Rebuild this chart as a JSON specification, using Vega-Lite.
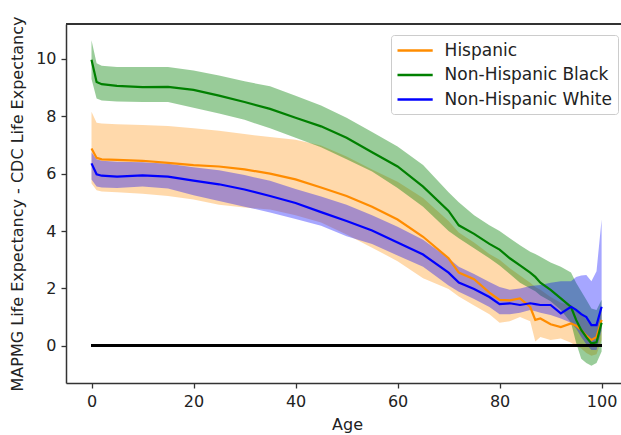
{
  "$schema": "https://vega.github.io/schema/vega-lite/v6.json",
  "width": 555,
  "height": 359,
  "autosize": {"type": "none"},
  "padding": {"left": 66, "top": 24, "right": 0, "bottom": 52},
  "background": "white",
  "config": {
    "view": {"stroke": null},
    "font": "DejaVu Sans",
    "axis": {
      "grid": false,
      "domainColor": "#333333",
      "domainWidth": 1.5,
      "tickColor": "#333333",
      "tickWidth": 1.3,
      "tickSize": 5,
      "labelColor": "#222222",
      "titleColor": "#222222",
      "labelFont": "DejaVu Sans",
      "titleFont": "DejaVu Sans",
      "labelFontSize": 16,
      "titleFontSize": 16,
      "titleFontWeight": "normal"
    }
  },
  "data": {
    "values": [
      {"series": "Hispanic", "age": 0, "diff": 6.88, "lower": 5.66, "upper": 8.16},
      {"series": "Hispanic", "age": 1, "diff": 6.55, "lower": 5.42, "upper": 7.78},
      {"series": "Hispanic", "age": 2, "diff": 6.5, "lower": 5.38, "upper": 7.75},
      {"series": "Hispanic", "age": 5, "diff": 6.48, "lower": 5.35, "upper": 7.72},
      {"series": "Hispanic", "age": 10, "diff": 6.45, "lower": 5.3, "upper": 7.7},
      {"series": "Hispanic", "age": 15, "diff": 6.38, "lower": 5.22, "upper": 7.66},
      {"series": "Hispanic", "age": 20, "diff": 6.3, "lower": 5.1, "upper": 7.58},
      {"series": "Hispanic", "age": 25, "diff": 6.25, "lower": 4.92, "upper": 7.5},
      {"series": "Hispanic", "age": 30, "diff": 6.15, "lower": 4.82, "upper": 7.38},
      {"series": "Hispanic", "age": 35, "diff": 6.0, "lower": 4.75, "upper": 7.28},
      {"series": "Hispanic", "age": 40, "diff": 5.8, "lower": 4.55, "upper": 7.18},
      {"series": "Hispanic", "age": 45, "diff": 5.52, "lower": 4.3, "upper": 6.98},
      {"series": "Hispanic", "age": 50, "diff": 5.22, "lower": 3.88, "upper": 6.6},
      {"series": "Hispanic", "age": 55, "diff": 4.85, "lower": 3.42, "upper": 6.15},
      {"series": "Hispanic", "age": 60, "diff": 4.4, "lower": 2.95, "upper": 5.72},
      {"series": "Hispanic", "age": 65, "diff": 3.8, "lower": 2.35, "upper": 5.15},
      {"series": "Hispanic", "age": 70, "diff": 3.05, "lower": 1.98, "upper": 4.35},
      {"series": "Hispanic", "age": 72, "diff": 2.55, "lower": 1.72, "upper": 3.95},
      {"series": "Hispanic", "age": 75, "diff": 2.32, "lower": 1.4, "upper": 3.6},
      {"series": "Hispanic", "age": 78, "diff": 1.85, "lower": 1.1, "upper": 3.2},
      {"series": "Hispanic", "age": 80, "diff": 1.6, "lower": 0.8, "upper": 3.0},
      {"series": "Hispanic", "age": 82, "diff": 1.58, "lower": 0.85, "upper": 2.7},
      {"series": "Hispanic", "age": 84, "diff": 1.65, "lower": 1.0, "upper": 2.45},
      {"series": "Hispanic", "age": 86, "diff": 1.35, "lower": 0.85, "upper": 2.2},
      {"series": "Hispanic", "age": 87, "diff": 0.9, "lower": 0.15, "upper": 2.05},
      {"series": "Hispanic", "age": 88, "diff": 0.95, "lower": 0.3, "upper": 1.95},
      {"series": "Hispanic", "age": 90, "diff": 0.75, "lower": 0.2, "upper": 1.7},
      {"series": "Hispanic", "age": 92, "diff": 0.65, "lower": 0.25, "upper": 1.5},
      {"series": "Hispanic", "age": 94, "diff": 0.78, "lower": 0.1, "upper": 1.4},
      {"series": "Hispanic", "age": 95, "diff": 0.7, "lower": 0.0, "upper": 1.3},
      {"series": "Hispanic", "age": 96, "diff": 0.55, "lower": -0.1, "upper": 1.1},
      {"series": "Hispanic", "age": 97, "diff": 0.35, "lower": -0.25, "upper": 0.9},
      {"series": "Hispanic", "age": 98, "diff": 0.2, "lower": -0.35, "upper": 0.7},
      {"series": "Hispanic", "age": 99, "diff": 0.3, "lower": -0.3, "upper": 0.8},
      {"series": "Hispanic", "age": 100, "diff": 0.9, "lower": 0.2, "upper": 1.2},

      {"series": "Non-Hispanic Black", "age": 0, "diff": 9.97, "lower": 9.3, "upper": 10.65},
      {"series": "Non-Hispanic Black", "age": 1, "diff": 9.2, "lower": 8.62, "upper": 9.85},
      {"series": "Non-Hispanic Black", "age": 2, "diff": 9.12, "lower": 8.55, "upper": 9.76},
      {"series": "Non-Hispanic Black", "age": 5, "diff": 9.06, "lower": 8.52, "upper": 9.72},
      {"series": "Non-Hispanic Black", "age": 10, "diff": 9.02, "lower": 8.5, "upper": 9.72},
      {"series": "Non-Hispanic Black", "age": 15, "diff": 9.03, "lower": 8.5, "upper": 9.72},
      {"series": "Non-Hispanic Black", "age": 20, "diff": 8.92, "lower": 8.3, "upper": 9.6},
      {"series": "Non-Hispanic Black", "age": 25, "diff": 8.72, "lower": 8.1, "upper": 9.42},
      {"series": "Non-Hispanic Black", "age": 30, "diff": 8.5, "lower": 7.88, "upper": 9.22},
      {"series": "Non-Hispanic Black", "age": 35, "diff": 8.26, "lower": 7.58, "upper": 9.05},
      {"series": "Non-Hispanic Black", "age": 40, "diff": 7.95, "lower": 7.25, "upper": 8.72},
      {"series": "Non-Hispanic Black", "age": 45, "diff": 7.65, "lower": 6.92, "upper": 8.38},
      {"series": "Non-Hispanic Black", "age": 50, "diff": 7.25, "lower": 6.5, "upper": 7.95},
      {"series": "Non-Hispanic Black", "age": 55, "diff": 6.75, "lower": 6.08, "upper": 7.45},
      {"series": "Non-Hispanic Black", "age": 60, "diff": 6.25, "lower": 5.5, "upper": 6.95},
      {"series": "Non-Hispanic Black", "age": 65, "diff": 5.55, "lower": 4.85, "upper": 6.3},
      {"series": "Non-Hispanic Black", "age": 70, "diff": 4.7, "lower": 4.0, "upper": 5.35},
      {"series": "Non-Hispanic Black", "age": 72, "diff": 4.2, "lower": 3.75, "upper": 5.0},
      {"series": "Non-Hispanic Black", "age": 75, "diff": 3.9, "lower": 3.4, "upper": 4.55},
      {"series": "Non-Hispanic Black", "age": 78, "diff": 3.55, "lower": 3.05, "upper": 4.2},
      {"series": "Non-Hispanic Black", "age": 80, "diff": 3.35, "lower": 2.8, "upper": 4.0},
      {"series": "Non-Hispanic Black", "age": 82, "diff": 3.05, "lower": 2.5, "upper": 3.75},
      {"series": "Non-Hispanic Black", "age": 84, "diff": 2.8, "lower": 2.2, "upper": 3.5},
      {"series": "Non-Hispanic Black", "age": 86, "diff": 2.55, "lower": 2.0, "upper": 3.28},
      {"series": "Non-Hispanic Black", "age": 87, "diff": 2.4, "lower": 1.9, "upper": 3.2},
      {"series": "Non-Hispanic Black", "age": 88, "diff": 2.2, "lower": 1.75, "upper": 3.1},
      {"series": "Non-Hispanic Black", "age": 90, "diff": 1.95, "lower": 1.55, "upper": 2.9},
      {"series": "Non-Hispanic Black", "age": 92, "diff": 1.65, "lower": 1.25, "upper": 2.75},
      {"series": "Non-Hispanic Black", "age": 94, "diff": 1.35, "lower": 0.8, "upper": 2.55},
      {"series": "Non-Hispanic Black", "age": 95, "diff": 0.9, "lower": 0.1, "upper": 2.2},
      {"series": "Non-Hispanic Black", "age": 96, "diff": 0.55, "lower": -0.45, "upper": 1.9},
      {"series": "Non-Hispanic Black", "age": 97, "diff": 0.3, "lower": -0.6, "upper": 1.6},
      {"series": "Non-Hispanic Black", "age": 98, "diff": 0.08, "lower": -0.7, "upper": 1.3},
      {"series": "Non-Hispanic Black", "age": 99, "diff": 0.12, "lower": -0.6, "upper": 1.25},
      {"series": "Non-Hispanic Black", "age": 100, "diff": 0.8, "lower": -0.2, "upper": 1.6},

      {"series": "Non-Hispanic White", "age": 0, "diff": 6.36, "lower": 5.8, "upper": 6.75},
      {"series": "Non-Hispanic White", "age": 1, "diff": 5.98, "lower": 5.55, "upper": 6.5},
      {"series": "Non-Hispanic White", "age": 2, "diff": 5.93, "lower": 5.52, "upper": 6.45},
      {"series": "Non-Hispanic White", "age": 5, "diff": 5.9, "lower": 5.5, "upper": 6.42},
      {"series": "Non-Hispanic White", "age": 10, "diff": 5.94, "lower": 5.55, "upper": 6.4},
      {"series": "Non-Hispanic White", "age": 15, "diff": 5.9, "lower": 5.48, "upper": 6.35},
      {"series": "Non-Hispanic White", "age": 20, "diff": 5.76, "lower": 5.25, "upper": 6.22},
      {"series": "Non-Hispanic White", "age": 25, "diff": 5.63, "lower": 5.05, "upper": 6.12},
      {"series": "Non-Hispanic White", "age": 30, "diff": 5.45, "lower": 4.85, "upper": 5.95},
      {"series": "Non-Hispanic White", "age": 35, "diff": 5.22, "lower": 4.65, "upper": 5.75},
      {"series": "Non-Hispanic White", "age": 40, "diff": 4.98, "lower": 4.42, "upper": 5.47},
      {"series": "Non-Hispanic White", "age": 45, "diff": 4.66, "lower": 4.18, "upper": 5.2},
      {"series": "Non-Hispanic White", "age": 50, "diff": 4.35, "lower": 3.82, "upper": 4.92},
      {"series": "Non-Hispanic White", "age": 55, "diff": 4.02, "lower": 3.55, "upper": 4.55},
      {"series": "Non-Hispanic White", "age": 60, "diff": 3.6, "lower": 3.15, "upper": 4.15},
      {"series": "Non-Hispanic White", "age": 65, "diff": 3.18, "lower": 2.75, "upper": 3.7},
      {"series": "Non-Hispanic White", "age": 70, "diff": 2.55, "lower": 2.1, "upper": 3.05},
      {"series": "Non-Hispanic White", "age": 72, "diff": 2.2, "lower": 1.88, "upper": 2.75},
      {"series": "Non-Hispanic White", "age": 75, "diff": 1.98, "lower": 1.63, "upper": 2.5},
      {"series": "Non-Hispanic White", "age": 78, "diff": 1.7, "lower": 1.35, "upper": 2.22},
      {"series": "Non-Hispanic White", "age": 80, "diff": 1.45, "lower": 1.1, "upper": 2.05},
      {"series": "Non-Hispanic White", "age": 82, "diff": 1.48, "lower": 1.1, "upper": 1.95},
      {"series": "Non-Hispanic White", "age": 84, "diff": 1.42, "lower": 1.15, "upper": 2.0},
      {"series": "Non-Hispanic White", "age": 86, "diff": 1.48, "lower": 1.25, "upper": 2.08},
      {"series": "Non-Hispanic White", "age": 87, "diff": 1.45, "lower": 1.2, "upper": 2.1},
      {"series": "Non-Hispanic White", "age": 88, "diff": 1.42, "lower": 1.15, "upper": 2.12},
      {"series": "Non-Hispanic White", "age": 90, "diff": 1.42, "lower": 1.07, "upper": 2.2},
      {"series": "Non-Hispanic White", "age": 92, "diff": 1.13, "lower": 0.95, "upper": 2.25},
      {"series": "Non-Hispanic White", "age": 94, "diff": 1.36, "lower": 0.8, "upper": 2.25},
      {"series": "Non-Hispanic White", "age": 95, "diff": 1.25, "lower": 0.6, "upper": 2.4},
      {"series": "Non-Hispanic White", "age": 96, "diff": 1.1, "lower": 0.3, "upper": 2.45},
      {"series": "Non-Hispanic White", "age": 97, "diff": 1.0, "lower": 0.05, "upper": 2.47},
      {"series": "Non-Hispanic White", "age": 98, "diff": 0.72, "lower": -0.15, "upper": 2.25},
      {"series": "Non-Hispanic White", "age": 99, "diff": 0.72, "lower": -0.15, "upper": 2.6},
      {"series": "Non-Hispanic White", "age": 100, "diff": 1.36, "lower": 0.55, "upper": 4.4}
    ]
  },
  "encoding": {
    "x": {"field": "age", "type": "quantitative",
          "scale": {"domain": [-5, 103.8], "nice": false, "zero": false},
          "axis": {"values": [0, 20, 40, 60, 80, 100], "title": "Age", "labelPadding": 5,
                   "titleX": 281, "titleY": 46, "titleBaseline": "alphabetic", "titleAnchor": null}},
    "y": {"type": "quantitative",
          "scale": {"domain": [-1.3, 11.22], "nice": false, "zero": false},
          "axis": {"values": [0, 2, 4, 6, 8, 10], "title": "MAPMG Life Expectancy - CDC Life Expectancy",
                   "labelPadding": 5, "titlePadding": 10}}
  },
  "layer": [
    {
      "transform": [{"filter": "datum.series === 'Hispanic'"}],
      "mark": {"type": "area", "opacity": 0.33, "color": "#ff8c00"},
      "encoding": {"y": {"field": "lower"}, "y2": {"field": "upper"}}
    },
    {
      "transform": [{"filter": "datum.series === 'Non-Hispanic Black'"}],
      "mark": {"type": "area", "opacity": 0.4, "color": "#008000"},
      "encoding": {"y": {"field": "lower"}, "y2": {"field": "upper"}}
    },
    {
      "transform": [{"filter": "datum.series === 'Non-Hispanic White'"}],
      "mark": {"type": "area", "opacity": 0.35, "color": "#0000ff"},
      "encoding": {"y": {"field": "lower"}, "y2": {"field": "upper"}}
    },
    {
      "mark": {"type": "line", "strokeWidth": 2.2},
      "encoding": {
        "y": {"field": "diff"},
        "color": {"field": "series", "type": "nominal",
                  "scale": {"domain": ["Hispanic", "Non-Hispanic Black", "Non-Hispanic White"],
                            "range": ["#ff8c00", "#008000", "#0000ff"]},
                  "legend": {"title": null, "orient": "none", "legendX": 325, "legendY": 11,
                             "symbolType": "M-2.2,0H2.2", "symbolSize": 256, "symbolStrokeWidth": 2.5,
                             "symbolOffset": 8.6,
                             "labelFontSize": 17, "labelFont": "DejaVu Sans", "labelColor": "#222222",
                             "labelLimit": 400,
                             "labelOffset": 20, "rowPadding": 6.5, "padding": 6,
                             "strokeColor": "#cccccc", "fillColor": "white", "cornerRadius": 3}}
      }
    },
    {
      "mark": {"type": "rule", "color": "black", "strokeWidth": 2},
      "encoding": {
        "x": {"datum": 0},
        "x2": {"datum": 100},
        "y": {"datum": 0}
      }
    },
    {
      "mark": {"type": "rule", "color": "#333333", "strokeWidth": 1.5},
      "encoding": {
        "x": null,
        "y": {"datum": 11.22}
      }
    }
  ]
}
